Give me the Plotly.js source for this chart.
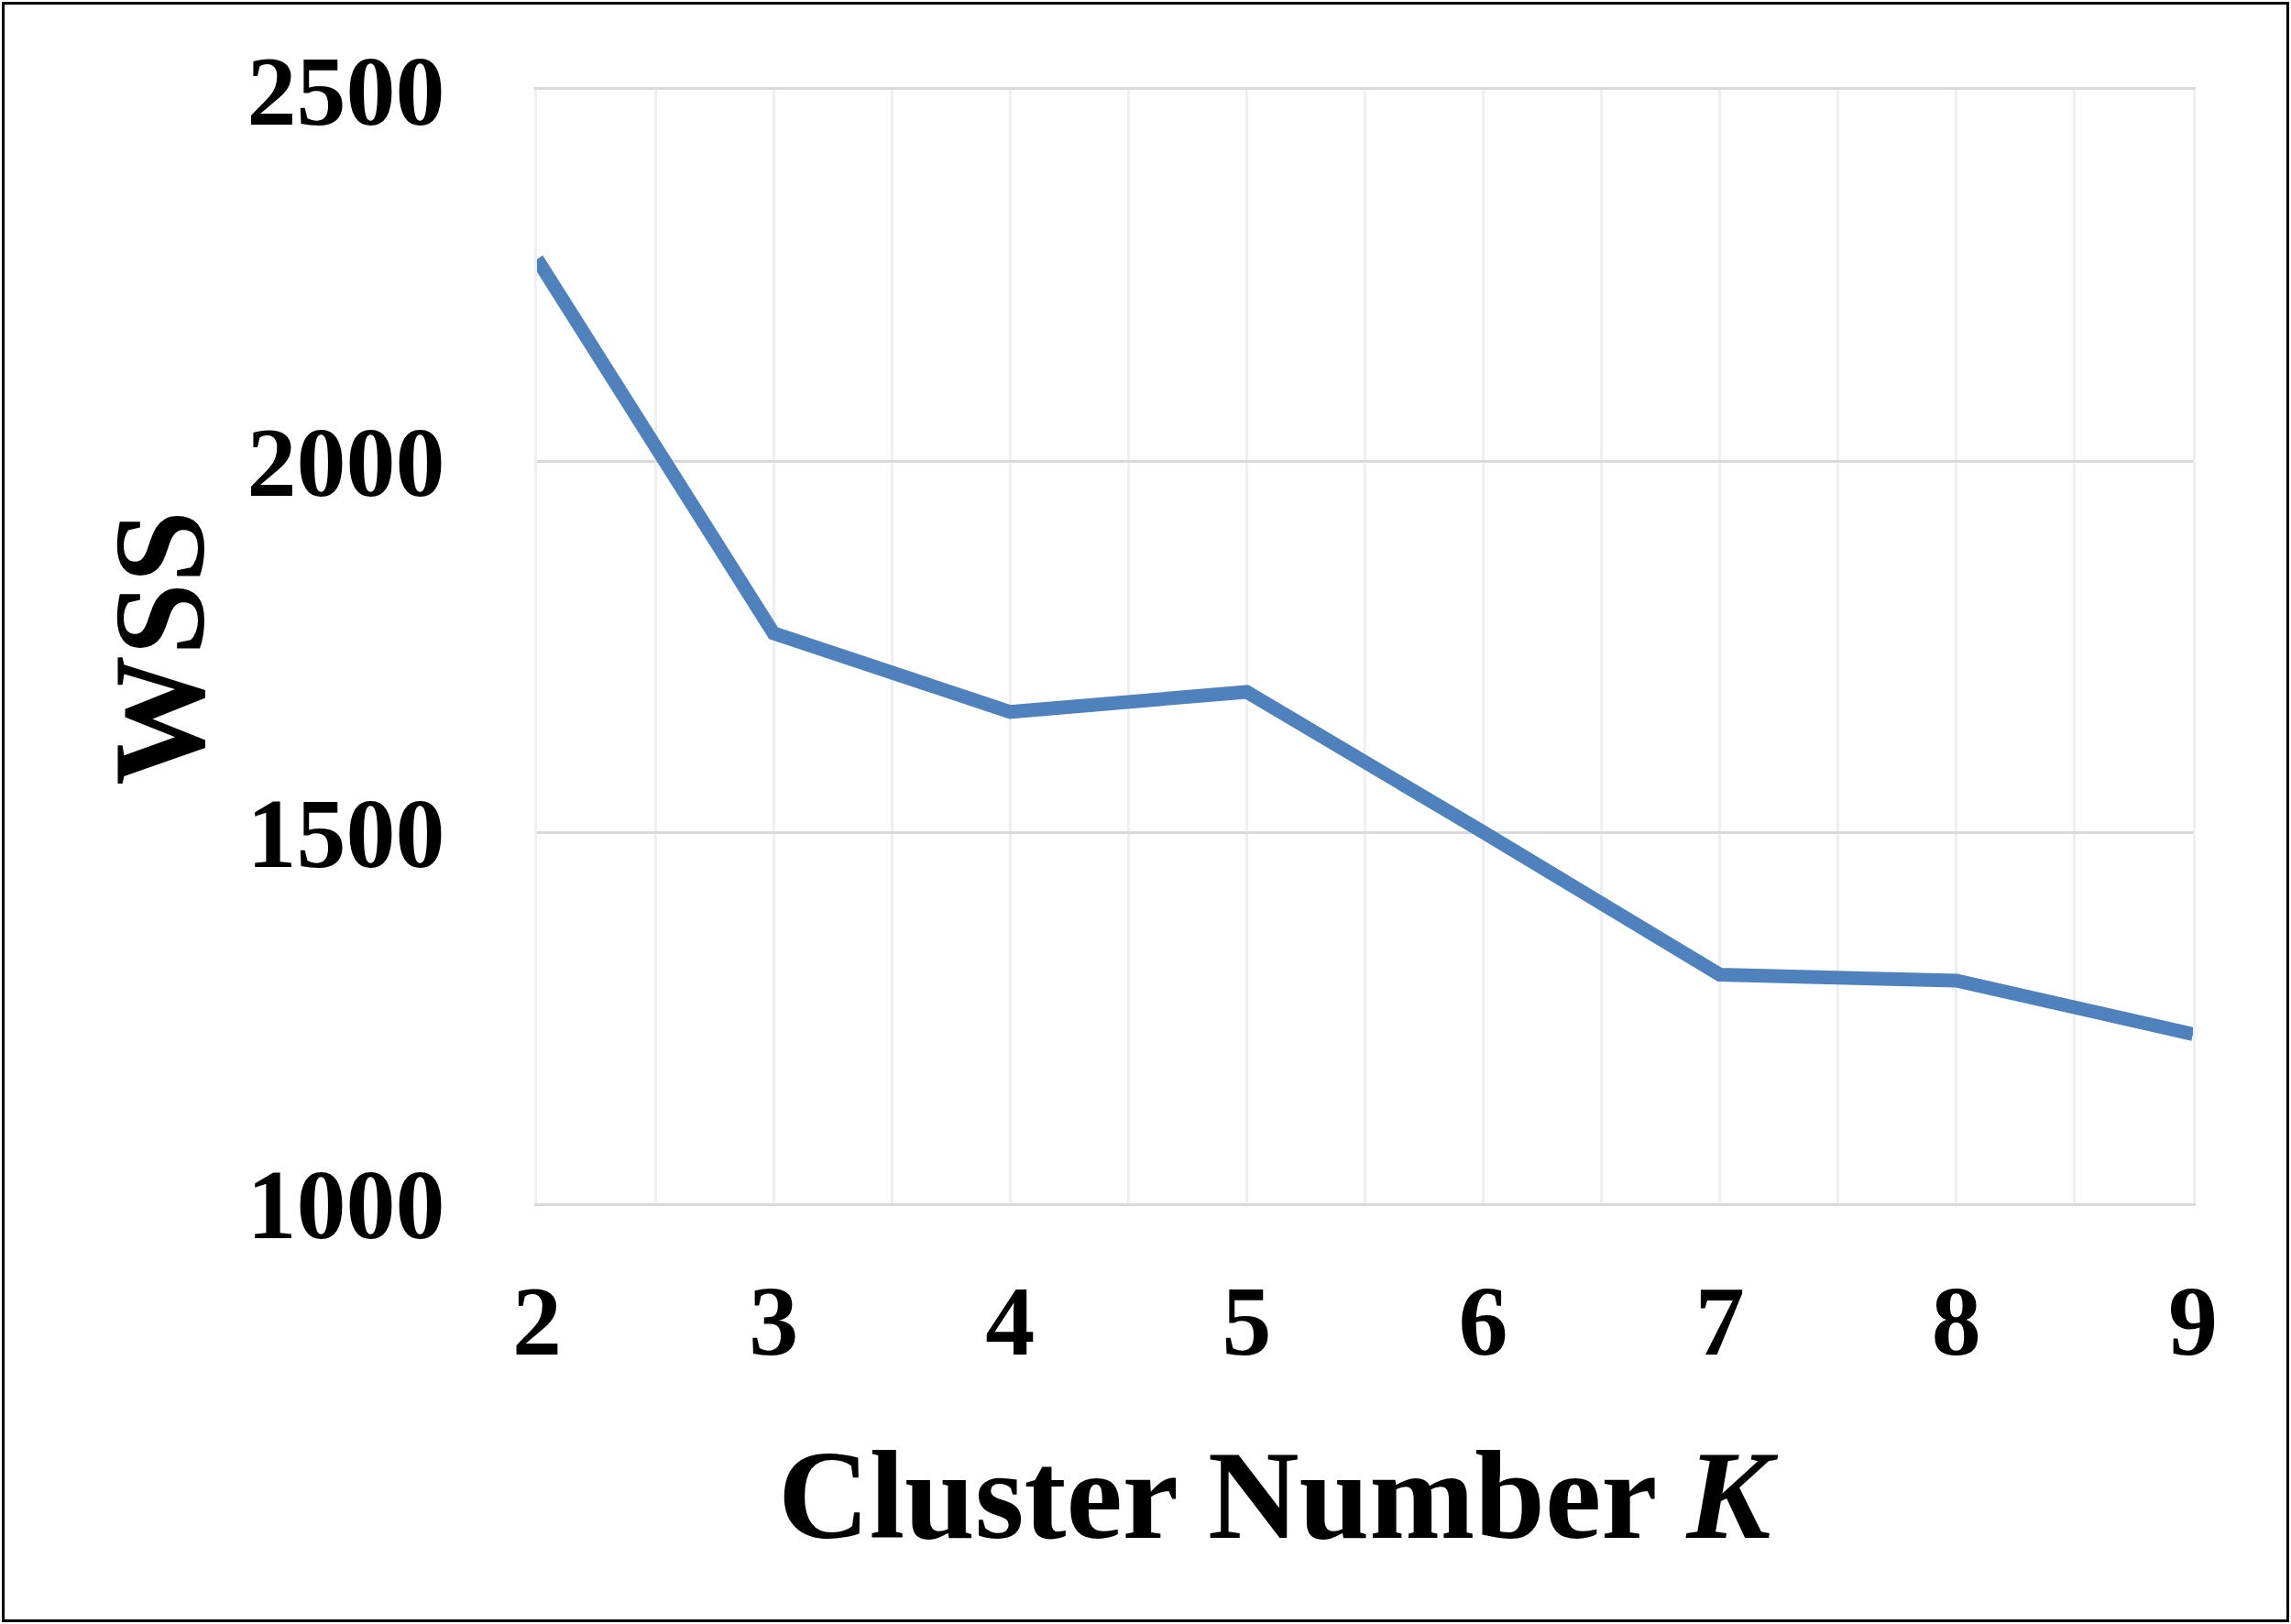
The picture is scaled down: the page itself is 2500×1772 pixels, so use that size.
<!DOCTYPE html>
<html>
<head>
<meta charset="utf-8">
<script src="https://cdn.plot.ly/plotly-3.0.1.min.js"></script>
<style>
  html, body { margin: 0; padding: 0; background: #ffffff; }
  #chart { width: 2500px; height: 1772px; }
</style>
</head>
<body>
<div id="chart"></div>
<script>
// Data
const clusterK = [2, 3, 4, 5, 6, 7, 8, 9];
const wssValues = [2272, 1768, 1662, 1689, 1500, 1308, 1300, 1228];
const yTickValues = [1000, 1500, 2000, 2500];
const yTickLabels = ["1000", "1500", "2000", "2500"];
const xTitle = "Cluster Number <i>K</i>";
const yTitle = "WSS";

const W = 2500, H = 1772;
const M = { l: 586, r: 107, t: 98, b: 459 };
const pw = W - M.l - M.r, ph = H - M.t - M.b;
const px = v => (v - M.l) / pw;          // pixel x -> paper x
const py = v => (H - M.b - v) / ph;      // pixel y -> paper y

const font = "Liberation Serif";

const trace = {
  x: clusterK,
  y: wssValues,
  type: "scatter",
  mode: "lines",
  line: { color: "#4F81BD", width: 15 },
  cliponaxis: false,
  hoverinfo: "skip"
};

const layout = {
  width: W,
  height: H,
  margin: M,
  paper_bgcolor: "#ffffff",
  plot_bgcolor: "#ffffff",
  showlegend: false,
  font: { family: font, color: "#000000" },
  xaxis: {
    range: [2, 9],
    tickmode: "array",
    tickvals: clusterK,
    ticktext: clusterK.map(String),
    showgrid: true,
    gridcolor: "#EFEFEF",
    gridwidth: 3,
    minor: { dtick: 0.5, tick0: 2, showgrid: true, gridcolor: "#EFEFEF", gridwidth: 3, ticks: "" },
    zeroline: false,
    showline: true,
    linecolor: "#D9D9D9",
    linewidth: 3,
    mirror: true,
    ticks: "outside",
    ticklen: 32,
    tickcolor: "rgba(0,0,0,0)",
    tickfont: { family: font, size: 108, color: "#000000", weight: "bold" }
  },
  yaxis: {
    range: [1000, 2500],
    tickmode: "array",
    tickvals: yTickValues,
    ticktext: yTickLabels,
    showgrid: true,
    gridcolor: "#D9D9D9",
    gridwidth: 3,
    zeroline: false,
    showline: true,
    linecolor: "#EFEFEF",
    linewidth: 3,
    mirror: true,
    ticks: "outside",
    ticklen: 76,
    tickcolor: "rgba(0,0,0,0)",
    tickfont: { family: font, size: 108, color: "#000000", weight: "bold" }
  },
  annotations: [
    {
      text: "<b>" + xTitle + "</b>",
      xref: "paper", yref: "paper",
      x: px(1395), y: py(1631),
      xanchor: "center", yanchor: "middle",
      showarrow: false,
      font: { family: font, size: 138, color: "#000000" }
    },
    {
      text: "<b>" + yTitle + "</b>",
      xref: "paper", yref: "paper",
      x: px(174), y: py(707),
      xanchor: "center", yanchor: "middle",
      textangle: -90,
      showarrow: false,
      font: { family: font, size: 142, color: "#000000" }
    }
  ],
  shapes: [
    {
      type: "rect",
      xref: "paper", yref: "paper",
      x0: px(3.5), x1: px(2496.5),
      y0: py(1768.5), y1: py(3.5),
      line: { color: "#000000", width: 3 },
      fillcolor: "rgba(0,0,0,0)",
      layer: "above"
    }
  ]
};

Plotly.newPlot("chart", [trace], layout, { displayModeBar: false, staticPlot: true });
</script>
</body>
</html>
